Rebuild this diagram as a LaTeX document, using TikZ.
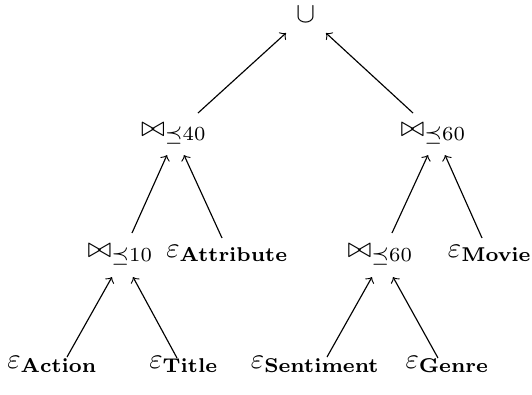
\documentclass[tikz,border=0pt]{standalone}
\usepackage{amsmath,amssymb}
\begin{document}
\begin{tikzpicture}[x=0.35pt,y=-0.35pt,
  op/.style={anchor=base,inner sep=0pt},
  arr/.style={->,line width=0.4pt}]
\useasboundingbox (0,0) rectangle (532,394);
% nodes
\node[op] (U)    at (306,22)   {$\cup$};
\node[op] (j40)  at (174,136)  {$\bowtie_{\preceq 40}$};
\node[op] (j60a) at (433.5,136){$\bowtie_{\preceq 60}$};
\node[op] (j10)  at (120.5,257){$\bowtie_{\preceq 10}$};
\node[op] (attr) at (227.5,257){$\varepsilon_{\mathbf{Attribute}}$};
\node[op] (j60b) at (380.5,257){$\bowtie_{\preceq 60}$};
\node[op] (movie) at (490,257) {$\varepsilon_{\mathbf{Movie}}$};
\node[op] (action) at (52.5,368){$\varepsilon_{\mathbf{Action}}$};
\node[op] (title) at (184,368) {$\varepsilon_{\mathbf{Title}}$};
\node[op] (sent) at (315.5,368){$\varepsilon_{\mathbf{Sentiment}}$};
\node[op] (genre) at (447.5,368){$\varepsilon_{\mathbf{Genre}}$};
% connectors
\draw[arr] ([shift={(24,-23)}]j40.base) -- ([shift={(-20,11)}]U.base);
\draw[arr] ([shift={(-20.5,-23)}]j60a.base) -- ([shift={(20,11)}]U.base);
\draw[arr] ([shift={(11.5,-24)}]j10.base) -- ([shift={(-7,19)}]j40.base);
\draw[arr] ([shift={(-5.5,-19)}]attr.base) -- ([shift={(10,19)}]j40.base);
\draw[arr] ([shift={(11.5,-24)}]j60b.base) -- ([shift={(-5.5,19)}]j60a.base);
\draw[arr] ([shift={(-8,-19)}]movie.base) -- ([shift={(11.5,19)}]j60a.base);
\draw[arr] ([shift={(14.5,-11)}]action.base) -- ([shift={(-8.5,20)}]j10.base);
\draw[arr] ([shift={(-7,-10)}]title.base) -- ([shift={(12.5,20)}]j10.base);
\draw[arr] ([shift={(11.5,-11)}]sent.base) -- ([shift={(-8.5,20)}]j60b.base);
\draw[arr] ([shift={(-9.5,-10)}]genre.base) -- ([shift={(12.5,20)}]j60b.base);
\end{tikzpicture}
\end{document}
